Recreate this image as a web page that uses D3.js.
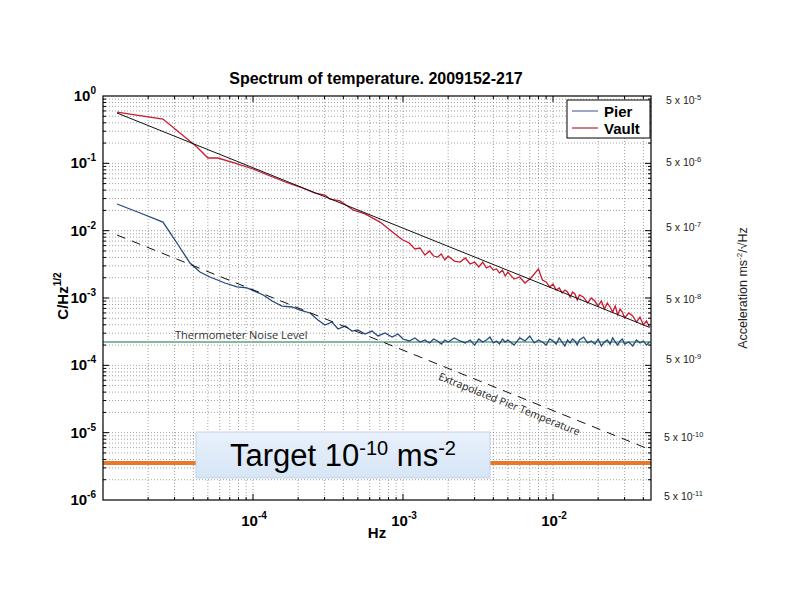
<!DOCTYPE html>
<html><head><meta charset="utf-8">
<script src="https://cdn.jsdelivr.net/npm/d3@7"></script>
<style>body{margin:0;background:#fff;} svg{display:block;}</style>
</head><body><svg id="c" width="800" height="600"></svg>
<script>
// ---------------- DATA ----------------
const chartTitle = "Spectrum of temperature. 2009152-217";
const seriesNames = ["Pier", "Vault"];
const xTickExps = ["-4", "-3", "-2"];
const yTickExps = ["0", "-1", "-2", "-3", "-4", "-5", "-6"];
const rightTickExps = ["-5", "-6", "-7", "-8", "-9", "-10", "-11"];
const rightTickAt = [0.872, 0.105, 1.13e-2, 9.66e-4, 1.24e-4, 8.6e-6, 1.15e-6]; // C/Hz^1/2 scale position

// Pier, low-frequency part
const pierFreqLow = [1.24e-5,1.77e-5,2.51e-5,3.11e-5,3.80e-5,4.43e-5,5.17e-5,6.50e-5,7.82e-5,9.12e-5,
  1.17e-4,1.34e-4,1.56e-4,1.82e-4,2.06e-4,2.40e-4,2.71e-4,3.02e-4,3.36e-4,3.69e-4,4.11e-4,4.57e-4,
  5.01e-4,5.58e-4,6.21e-4,6.81e-4,7.59e-4,8.45e-4,9.26e-4];
const pierValLow = [2.49e-2,1.83e-2,1.34e-2,6.56e-3,3.31e-3,2.43e-3,2.05e-3,1.67e-3,1.46e-3,1.41e-3,
  1.11e-3,9.02e-4,7.60e-4,7.35e-4,6.63e-4,5.99e-4,4.71e-4,3.97e-4,4.40e-4,3.46e-4,3.84e-4,3.23e-4,
  3.35e-4,2.92e-4,3.23e-4,2.73e-4,3.02e-4,2.63e-4,2.92e-4];

// Vault, low-frequency part
const vaultFreqLow = [1.24e-5,2.51e-5,4.23e-5,5.01e-5,5.84e-5,7.59e-5,1.0e-4,1.30e-4,1.64e-4,2.06e-4,
  2.59e-4,3.02e-4,3.26e-4,3.80e-4,4.64e-4,5.58e-4,7.03e-4,8.19e-4,9.55e-4];
const vaultValLow = [0.578,0.455,0.175,0.120,0.120,0.101,8.24e-2,6.48e-2,5.28e-2,4.45e-2,
  3.62e-2,3.38e-2,2.95e-2,2.76e-2,2.03e-2,1.77e-2,1.34e-2,1.02e-2,7.78e-3];

// High-frequency part (shared frequencies)
const hfFreq = [1.0e-3,1.1e-3,1.2e-3,1.3e-3,1.4e-3,1.5e-3,1.6e-3,1.7e-3,1.8e-3,1.9e-3,2.0e-3,
  2.2e-3,2.4e-3,2.6e-3,2.8e-3,3.0e-3,3.2e-3,3.4e-3,3.6e-3,3.8e-3,4.0e-3,4.2e-3,4.4e-3,4.6e-3,4.8e-3,5.0e-3,
  5.5e-3,6.0e-3,6.5e-3,7.0e-3,7.5e-3,8.0e-3,8.5e-3,9.0e-3,9.5e-3,
  1.0e-2,1.05e-2,1.1e-2,1.15e-2,1.2e-2,1.25e-2,1.3e-2,1.35e-2,1.4e-2,1.45e-2,1.5e-2,
  1.6e-2,1.7e-2,1.8e-2,1.9e-2,2.0e-2,2.1e-2,2.2e-2,2.3e-2,2.4e-2,2.5e-2,2.6e-2,2.7e-2,2.8e-2,2.9e-2,3.0e-2,
  3.2e-2,3.4e-2,3.6e-2,3.8e-2,4.0e-2,4.2e-2,4.4e-2];
const pierValHF = [2.46e-4,2.30e-4,2.55e-4,2.22e-4,2.38e-4,2.15e-4,2.46e-4,2.30e-4,2.07e-4,2.38e-4,
  2.22e-4,2.55e-4,2.30e-4,2.15e-4,2.38e-4,2.00e-4,2.46e-4,2.22e-4,2.38e-4,2.63e-4,
  2.15e-4,2.30e-4,2.07e-4,2.46e-4,2.22e-4,2.38e-4,2.00e-4,2.55e-4,2.30e-4,2.73e-4,
  2.15e-4,2.38e-4,2.22e-4,2.00e-4,2.46e-4,2.30e-4,2.07e-4,2.55e-4,2.22e-4,1.94e-4,
  2.38e-4,2.15e-4,2.46e-4,2.30e-4,2.00e-4,2.38e-4,2.63e-4,2.15e-4,2.30e-4,2.07e-4,
  2.46e-4,1.94e-4,2.22e-4,2.38e-4,2.07e-4,2.55e-4,2.22e-4,2.00e-4,2.30e-4,2.46e-4,
  2.07e-4,2.22e-4,1.94e-4,2.38e-4,2.15e-4,2.30e-4,2.00e-4,2.22e-4];
const vaultValHF = [7.27e-3,6.56e-3,5.34e-3,5.53e-3,4.35e-3,4.99e-3,4.20e-3,4.06e-3,4.50e-3,3.67e-3,
  4.20e-3,3.54e-3,3.42e-3,3.93e-3,3.20e-3,3.42e-3,2.89e-3,3.42e-3,2.79e-3,2.99e-3,
  2.60e-3,2.70e-3,2.35e-3,2.60e-3,2.12e-3,2.43e-3,1.91e-3,2.05e-3,1.67e-3,1.91e-3,
  2.27e-3,2.70e-3,1.85e-3,1.73e-3,1.46e-3,1.61e-3,1.31e-3,1.41e-3,1.19e-3,1.31e-3,
  1.23e-3,1.03e-3,1.23e-3,1.15e-3,9.34e-4,1.11e-3,1.03e-3,8.43e-4,1.00e-3,9.02e-4,
  7.60e-4,9.02e-4,6.86e-4,8.43e-4,7.35e-4,6.19e-4,7.60e-4,5.59e-4,6.86e-4,6.19e-4,
  5.04e-4,5.99e-4,5.40e-4,4.40e-4,5.22e-4,3.97e-4,4.55e-4,3.71e-4];

// Fits
const fitFreq = [1.24e-5, 4.4e-2];
const vaultFit = [0.559, 3.66e-4];
const pierExtrap = [8.62e-3, 5.64e-6];
const noiseLevel = 2.22e-4;
const targetLevel = 3.55e-6;

// ---------------- CHART ----------------
const FONT = "'Liberation Sans', Arial, Helvetica, sans-serif";
const M = {l:103, r:651, t:96, b:500};
const x = d3.scaleLog().domain([1e-5, 0.045]).range([M.l, M.r]);
const y = d3.scaleLog().domain([1e-6, 1]).range([M.b, M.t]);
const svg = d3.select("#c");
const defs = svg.append("defs");
defs.append("clipPath").attr("id","clip").append("rect")
  .attr("x",M.l).attr("y",M.t).attr("width",M.r-M.l).attr("height",M.b-M.t);
const grad = defs.append("linearGradient").attr("id","tg").attr("x1",0).attr("y1",0).attr("x2",0).attr("y2",1);
grad.append("stop").attr("offset","0%").attr("stop-color","#e9f1fb");
grad.append("stop").attr("offset","100%").attr("stop-color","#d6e5f6");

const isMajor = d => Math.abs(Math.log10(d) - Math.round(Math.log10(d))) < 1e-6;
const xt = x.ticks().filter(d => d > 1e-5 * 1.001);
const yt = y.ticks().filter(d => d > 1e-6 * 1.001 && d < 0.999);

// grid
const grid = svg.append("g").attr("stroke","#8a8a8a").attr("stroke-width",0.8).attr("stroke-dasharray","1,2");
grid.selectAll(".gx").data(xt).join("line").attr("x1",d=>x(d)).attr("x2",d=>x(d)).attr("y1",M.t).attr("y2",M.b);
grid.selectAll(".gy").data(yt).join("line").attr("y1",d=>y(d)).attr("y2",d=>y(d)).attr("x1",M.l).attr("x2",M.r);

const plot = svg.append("g").attr("clip-path","url(#clip)");
// noise level & target
plot.append("line").attr("x1",M.l).attr("x2",M.r).attr("y1",y(noiseLevel)).attr("y2",y(noiseLevel))
  .attr("stroke","#86b99e").attr("stroke-width",2);
plot.append("line").attr("x1",M.l).attr("x2",M.r).attr("y1",y(targetLevel)).attr("y2",y(targetLevel))
  .attr("stroke","#e8782a").attr("stroke-width",4);

const line = d3.line().x(d=>x(d[0])).y(d=>y(d[1]));
const zip = (a,b) => a.map((v,i)=>[v,b[i]]);
const pierData = zip(pierFreqLow.concat(hfFreq), pierValLow.concat(pierValHF));
const vaultData = zip(vaultFreqLow.concat(hfFreq), vaultValLow.concat(vaultValHF));
plot.append("path").attr("d",line(pierData)).attr("fill","none").attr("stroke","#26497c").attr("stroke-width",1.3);
plot.append("path").attr("d",line(vaultData)).attr("fill","none").attr("stroke","#cc1a2e").attr("stroke-width",1.3);

plot.append("path").attr("d",line(zip(fitFreq,vaultFit))).attr("fill","none").attr("stroke","#111").attr("stroke-width",1);
plot.append("path").attr("d",line(zip(fitFreq,pierExtrap))).attr("fill","none").attr("stroke","#111").attr("stroke-width",1)
  .attr("stroke-dasharray","9,7");

// frame + ticks
svg.append("rect").attr("x",M.l).attr("y",M.t).attr("width",M.r-M.l).attr("height",M.b-M.t)
  .attr("fill","none").attr("stroke","#000").attr("stroke-width",1.2);
const tk = svg.append("g").attr("stroke","#000").attr("stroke-width",1);
const len = d => isMajor(d) ? 6 : 3;
tk.selectAll(".tb").data(xt).join("line").attr("x1",d=>x(d)).attr("x2",d=>x(d)).attr("y1",M.b).attr("y2",d=>M.b-len(d));
tk.selectAll(".tt").data(xt).join("line").attr("x1",d=>x(d)).attr("x2",d=>x(d)).attr("y1",M.t).attr("y2",d=>M.t+len(d));
tk.selectAll(".tl").data(yt).join("line").attr("y1",d=>y(d)).attr("y2",d=>y(d)).attr("x1",M.l).attr("x2",d=>M.l+len(d));
tk.selectAll(".tr").data(yt).join("line").attr("y1",d=>y(d)).attr("y2",d=>y(d)).attr("x1",M.r).attr("x2",d=>M.r-len(d));

// y tick labels
yTickExps.forEach(e => {
  const t = svg.append("text").attr("x",M.l-7).attr("y",y(Math.pow(10,+e))+5).attr("text-anchor","end")
    .attr("font-family",FONT).attr("font-weight","bold").attr("font-size",15);
  t.append("tspan").text("10");
  t.append("tspan").attr("dy",-7).attr("font-size",10).text(e);
});
// x tick labels
xTickExps.forEach(e => {
  const t = svg.append("text").attr("x",x(Math.pow(10,+e))+1).attr("y",526).attr("text-anchor","middle")
    .attr("font-family",FONT).attr("font-weight","bold").attr("font-size",15);
  t.append("tspan").text("10");
  t.append("tspan").attr("dy",-7).attr("font-size",10).text(e);
});
// axis titles
svg.append("text").attr("x",(M.l+M.r)/2).attr("y",538).attr("text-anchor","middle")
  .attr("font-family",FONT).attr("font-weight","bold").attr("font-size",15).text("Hz");
const yl = svg.append("text").attr("transform","translate(68,296) rotate(-90)").attr("text-anchor","middle")
  .attr("font-family",FONT).attr("font-weight","bold").attr("font-size",15);
yl.append("tspan").text("C/Hz");
yl.append("tspan").attr("dy",-7).attr("font-size",10).text("1/2");
svg.append("text").attr("x",376).attr("y",84).attr("text-anchor","middle")
  .attr("font-family",FONT).attr("font-weight","bold").attr("font-size",16).text(chartTitle);

// legend
const lg = svg.append("g");
lg.append("rect").attr("x",567).attr("y",100).attr("width",83).attr("height",38).attr("fill","#fff").attr("stroke","#000").attr("stroke-width",1);
const legColors = ["#5a6a9e","#b52234"];
seriesNames.forEach((n,i) => {
  const yy = 111 + i*17;
  lg.append("line").attr("x1",572).attr("x2",598).attr("y1",yy).attr("y2",yy).attr("stroke",legColors[i]).attr("stroke-width",1.2);
  lg.append("text").attr("x",604).attr("y",yy+6).attr("font-family",FONT).attr("font-weight","bold").attr("font-size",15).text(n);
});

// annotations
svg.append("text").attr("x",175).attr("y",y(noiseLevel)-3).attr("font-family","'Open Sans', sans-serif")
  .attr("font-size",11).attr("fill","#333").text("Thermometer Noise Level");
const lf0 = Math.log10(fitFreq[0]), lf1 = Math.log10(fitFreq[1]);
const lv0 = Math.log10(pierExtrap[0]), lv1 = Math.log10(pierExtrap[1]);
const fAt = 1.85e-3;
const vAt = Math.pow(10, lv0 + (Math.log10(fAt)-lf0)/(lf1-lf0)*(lv1-lv0));
const ang = Math.atan2(y(pierExtrap[1])-y(pierExtrap[0]), x(fitFreq[1])-x(fitFreq[0])) * 180/Math.PI;
svg.append("text").attr("transform",`translate(${x(fAt)},${y(vAt)}) rotate(${ang})`).attr("y",14)
  .attr("font-family","'Open Sans', sans-serif").attr("font-size",10.5).attr("fill","#222").text("Extrapolated Pier Temperature");

// target box
svg.append("rect").attr("x",196).attr("y",432).attr("width",294).attr("height",46)
  .attr("fill","url(#tg)").attr("stroke","#c3d4e9").attr("stroke-width",1);
const tt = svg.append("text").attr("x",343).attr("y",466).attr("text-anchor","middle")
  .attr("font-family",FONT).attr("font-size",31).attr("fill","#000");
tt.append("tspan").text("Target 10");
tt.append("tspan").attr("dy",-11).attr("font-size",20).text("-10");
tt.append("tspan").attr("dy",11).text(" ms");
tt.append("tspan").attr("dy",-11).attr("font-size",20).text("-2");

// right-side labels
rightTickExps.forEach((e,i) => {
  const t = svg.append("text").attr("x", i >= 5 ? 664 : 666).attr("y",y(rightTickAt[i])+4)
    .attr("font-family",FONT).attr("font-size",10.5).attr("fill","#222");
  t.append("tspan").text("5 x 10");
  t.append("tspan").attr("dy",-4).attr("font-size",7.5).text(e);
});
const al = svg.append("text").attr("transform","translate(747,288) rotate(-90)").attr("text-anchor","middle")
  .attr("font-family",FONT).attr("font-size",12.5).attr("fill","#222");
al.append("tspan").text("Acceleration ms");
al.append("tspan").attr("dy",-5).attr("font-size",8).text("-2");
al.append("tspan").attr("dy",5).text("/√Hz");
</script></body></html>
